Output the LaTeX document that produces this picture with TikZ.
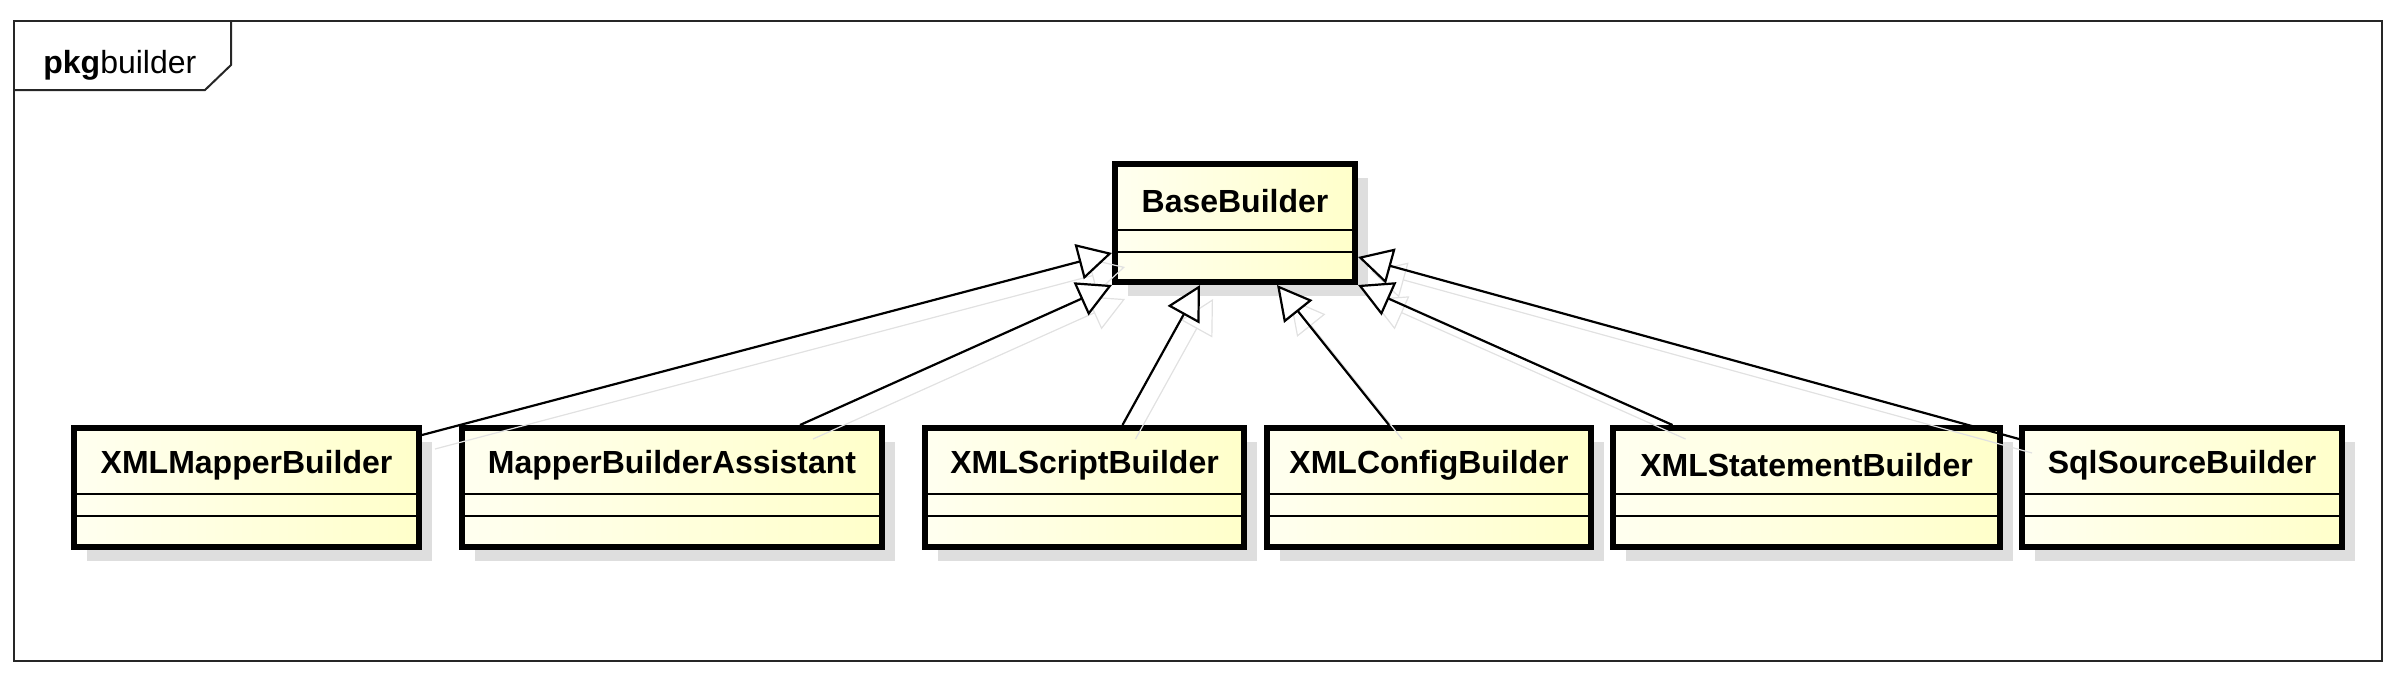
\documentclass[tikz,border=0pt]{standalone}
\usepackage{fontspec}
\setmainfont{Liberation Sans}
\usetikzlibrary{arrows.meta,fit}
\definecolor{boxleft}{RGB}{255,255,240}
\definecolor{boxright}{RGB}{255,255,202}
\definecolor{shadowc}{RGB}{222,222,222}
\definecolor{ghostc}{RGB}{225,225,225}
\tikzset{
  clsbox/.style={inner sep=0pt, draw=black, line width=3pt, left color=boxleft, right color=boxright},
  clsname/.style={font=\fontsize{16}{19}\selectfont\bfseries, inner sep=0pt},
  divline/.style={line width=1pt, black},
  gen/.style={line width=1.1pt, black, -{Triangle[fill=white, length=17pt, width=18pt, line width=1.1pt]}},
  ghost/.style={line width=0.6pt, ghostc, -{Triangle[open, length=17pt, width=18pt, line width=0.6pt]}},
  frameline/.style={line width=1pt, black!85},
}
\newcommand\umlcls[6]{%
  \fill[shadowc] (#2+13,#4+14) rectangle (#3+13,#5+14);
  \node[clsbox, fit={(#2,#4) (#3,#5)}] (#1) {};
  \draw[divline] (#2,#4+66) -- (#3,#4+66);
  \draw[divline] (#2,#4+88) -- (#3,#4+88);
  \node[clsname] (#1-t) at ({(#2+#3)/2},#4+37) {#6};
}
\begin{document}
\begin{tikzpicture}[x=0.5pt,y=-0.5pt]
\useasboundingbox (0,0) rectangle (2397,676);
% frame
\draw[frameline] (14,21) rectangle (2382,661);
\draw[frameline] (14,90) -- (205,90) -- (231,65) -- (231,21);
\node[anchor=base west, inner sep=0pt, font=\fontsize{16}{19}\selectfont] (pkg) at (43,73) {\textbf{pkg}builder};
% classes
\umlcls{base}{1115}{1355}{164}{282}{BaseBuilder}
\umlcls{xmb}{74}{419}{428}{547}{XMLMapperBuilder}
\umlcls{mba}{462}{882}{428}{547}{MapperBuilderAssistant}
\umlcls{xsb}{925}{1244}{428}{547}{XMLScriptBuilder}
\umlcls{xcb}{1267}{1591}{428}{547}{XMLConfigBuilder}
\umlcls{xstb}{1613}{2000}{428}{547}{XMLStatementBuilder}
\umlcls{ssb}{2022}{2342}{428}{547}{SqlSourceBuilder}
% ghost connectors
\begin{scope}[transform canvas={shift={(6.5pt,-7pt)}}]
\draw[ghost] ([yshift=-5pt]xmb.north east) -- ([yshift=-15pt]base.west);
\draw[ghost] ([xshift=64pt]mba.north) -- (base.south west);
\draw[ghost] ([xshift=19pt]xsb.north) -- ([xshift=-17.5pt]base.south);
\draw[ghost] ([xshift=-20pt]xcb.north) -- ([xshift=21pt]base.south);
\draw[ghost] ([xshift=-67pt]xstb.north) -- (base.south east);
\draw[ghost] ([yshift=-7pt]ssb.north west) -- ([yshift=-17pt]base.east);
\end{scope}
% generalizations
\draw[gen] ([yshift=-5pt]xmb.north east) -- ([yshift=-15pt]base.west);
\draw[gen] ([xshift=64pt]mba.north) -- (base.south west);
\draw[gen] ([xshift=19pt]xsb.north) -- ([xshift=-17.5pt]base.south);
\draw[gen] ([xshift=-20pt]xcb.north) -- ([xshift=21pt]base.south);
\draw[gen] ([xshift=-67pt]xstb.north) -- (base.south east);
\draw[gen] ([yshift=-7pt]ssb.north west) -- ([yshift=-17pt]base.east);
\end{tikzpicture}
\end{document}
